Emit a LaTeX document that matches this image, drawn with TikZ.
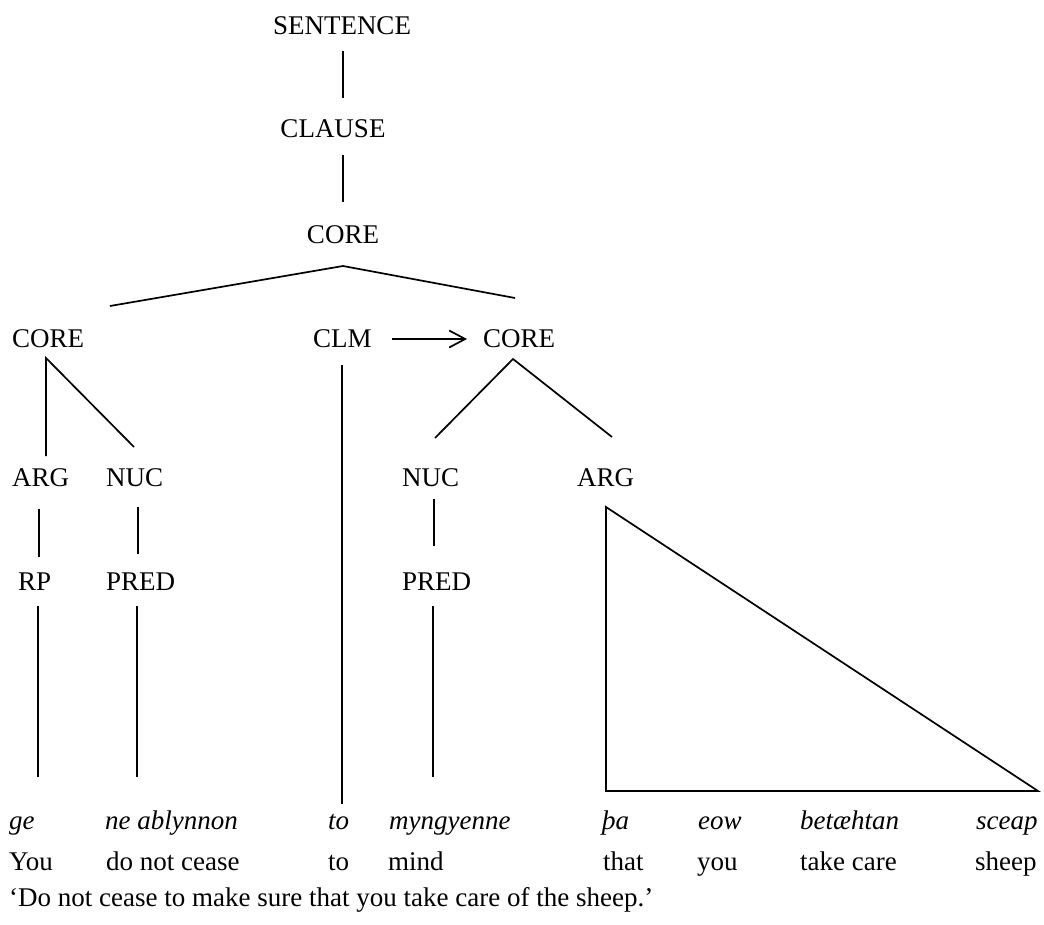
\documentclass[tikz,border=0pt]{standalone}
\usepackage{fontspec}
\setmainfont{Liberation Serif}
\usetikzlibrary{arrows.meta}
\begin{document}
\begin{tikzpicture}[x=1pt,y=-1pt,
  lbl/.style={inner sep=0pt, anchor=base west, font=\fontsize{27}{32}\selectfont},
  lblc/.style={lbl, anchor=base},
  word/.style={lbl, font=\fontsize{27}{32}\selectfont\itshape},
  edge/.style={line width=1.7pt},
]
\useasboundingbox (0,0) rectangle (1044,925);

% category labels
\node[lblc] (sent)   at (342,35)  {SENTENCE};
\node[lblc] (clause) at (333,138) {CLAUSE};
\node[lblc] (coreT)  at (343,244) {CORE};
\node[lbl]  (coreL)  at (12,347)  {CORE};
\node[lbl]  (clm)    at (313,347) {CLM};
\node[lbl]  (coreR)  at (483,347) {CORE};
\node[lbl]  (argL)   at (12,486)  {ARG};
\node[lbl]  (nucL)   at (106,486) {NUC};
\node[lbl]  (nucR)   at (402,486) {NUC};
\node[lbl]  (argR)   at (577,486) {ARG};
\node[lbl]  (rp)     at (18,590)  {RP};
\node[lbl]  (predL)  at (106,590) {PRED};
\node[lbl]  (predR)  at (402,590) {PRED};

% Old English words
\node[word] (w1) at (9,829)   {ge};
\node[word] (w2) at (105,829) {ne ablynnon};
\node[word] (w3) at (328,829) {to};
\node[word] (w4) at (389,829) {myngyenne};
\node[word] (w5) at (602,829) {þa};
\node[word] (w6) at (698,829) {eow};
\node[word] (w7) at (800,829) {betæhtan};
\node[word] (w8) at (976,829) {sceap};

% glosses
\node[lbl] (g1) at (9,870)   {You};
\node[lbl] (g2) at (106,870) {do not cease};
\node[lbl] (g3) at (328,870) {to};
\node[lbl] (g4) at (388,870) {mind};
\node[lbl] (g5) at (603,870) {that};
\node[lbl] (g6) at (697,870) {you};
\node[lbl] (g7) at (800,870) {take care};
\node[lbl] (g8) at (975,870) {sheep};

% free translation
\node[lbl] (trans) at (9,906) {‘Do not cease to make sure that you take care of the sheep.’};

% branch end points
\coordinate (sentB)   at (343,51);
\coordinate (clauseT) at (343,98);
\coordinate (clauseB) at (343,155);
\coordinate (coreTT)  at (343,202);
\coordinate (coreTB)  at (343,266);
\coordinate (coreLT)  at (110,306);
\coordinate (coreRT)  at (515,298);
\coordinate (coreLB)  at (46,358);
\coordinate (argLT)   at (46,456);
\coordinate (nucLT)   at (134,447);
\coordinate (clmB)    at (342,365);
\coordinate (toT)     at (342,804);
\coordinate (arrS)    at (392,339);
\coordinate (arrE)    at (467,339);
\coordinate (coreRB)  at (513,359);
\coordinate (nucRT)   at (435,438);
\coordinate (argRT)   at (612,437);
\coordinate (argLB)   at (39,509);
\coordinate (rpT)     at (39,557);
\coordinate (nucLB)   at (138,507);
\coordinate (predLT)  at (138,554);
\coordinate (nucRB)   at (434,499);
\coordinate (predRT)  at (434,546);
\coordinate (rpB)     at (38,606);
\coordinate (geT)     at (38,777);
\coordinate (predLB)  at (137,606);
\coordinate (neT)     at (137,777);
\coordinate (predRB)  at (433,606);
\coordinate (myT)     at (433,777);
\coordinate (triA)    at (606,507);
\coordinate (triL)    at (606,791);
\coordinate (triR)    at (1038,791);

% tree branches
\draw[edge] (sentB) -- (clauseT);
\draw[edge] (clauseB) -- (coreTT);
\draw[edge] (coreLT) -- (coreTB) -- (coreRT);
\draw[edge] (argLT) -- (coreLB) -- (nucLT);
\draw[edge] (clmB) -- (toT);
\draw[edge,-{Straight Barb[length=16pt,width=17pt]}] (arrS) -- (arrE);
\draw[edge] (nucRT) -- (coreRB) -- (argRT);
\draw[edge] (argLB) -- (rpT);
\draw[edge] (nucLB) -- (predLT);
\draw[edge] (nucRB) -- (predRT);
\draw[edge] (rpB) -- (geT);
\draw[edge] (predLB) -- (neT);
\draw[edge] (predRB) -- (myT);
\draw[edge] (triA) -- (triL) -- (triR) -- cycle;
\end{tikzpicture}
\end{document}
